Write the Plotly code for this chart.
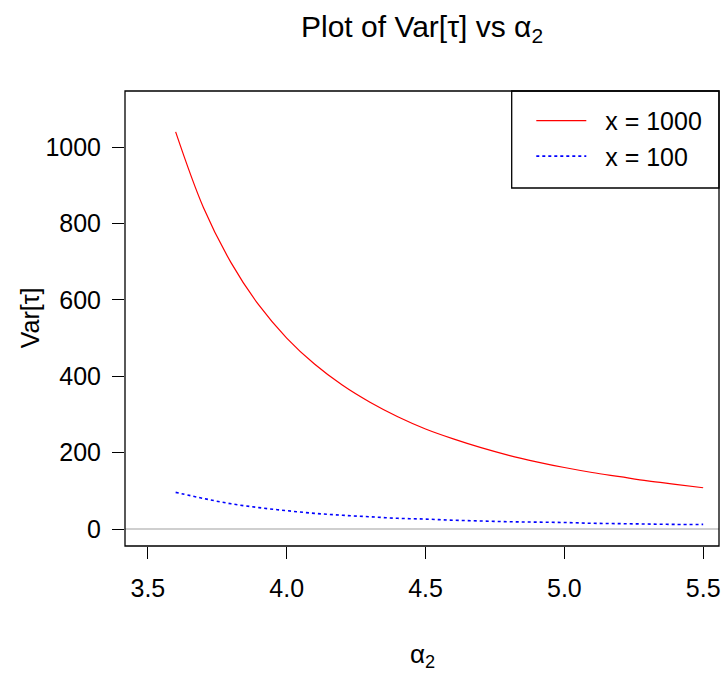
import plotly.graph_objects as go

alpha2 = [3.6, 3.7, 3.8, 3.9, 4.0, 4.1, 4.2, 4.3, 4.4, 4.5,
          4.6, 4.7, 4.8, 4.9, 5.0, 5.1, 5.2, 5.3, 5.4, 5.5]
var_x1000 = [1040, 842, 697, 586, 500, 432, 377, 332, 294, 262,
             236, 213, 193, 176, 161, 148, 137, 126, 117, 108]
var_x100 = [96, 80, 66, 56, 48, 41, 36, 32, 28, 26,
            23, 21, 19, 18, 17, 15, 14, 13, 12, 12]
x_ticks = [3.5, 4.0, 4.5, 5.0, 5.5]
x_tick_labels = ["3.5", "4.0", "4.5", "5.0", "5.5"]
y_ticks = [0, 200, 400, 600, 800, 1000]

FONT = "Liberation Sans, Arial, sans-serif"
W, H = 722, 675
L, R, T, B = 125, 1, 91, 129
plot_w = W - L - R
plot_h = H - T - B


def py(pix):
    return (H - B - pix) / plot_h


def px(pix):
    return (pix - L) / plot_w


NB = "\u00a0\u00a0"

fig = go.Figure()
fig.add_trace(go.Scatter(x=alpha2, y=var_x1000, mode="lines", name=NB + "x = 1000",
                         line=dict(color="#FF0000", width=1.2, shape="spline")))
fig.add_trace(go.Scatter(x=alpha2, y=var_x100, mode="lines", name=NB + "x = 100",
                         line=dict(color="#0000FF", width=1.6, dash="dot", shape="spline")))

fig.update_layout(
    width=W, height=H,
    margin=dict(l=L, r=R, t=T, b=B, pad=0),
    paper_bgcolor="white", plot_bgcolor="white",
    font=dict(family=FONT, size=25, color="black"),
    showlegend=True,
    legend=dict(x=0.684, y=0.985, xanchor="left", yanchor="top",
                bgcolor="rgba(0,0,0,0)", borderwidth=0,
                font=dict(size=25), itemwidth=50, tracegroupgap=0),
    xaxis=dict(range=[3.4176, 5.557], tickvals=x_ticks, ticktext=x_tick_labels,
               ticks="outside", ticklen=12, tickcolor="black", tickwidth=1,
               showgrid=False, zeroline=False, showline=False,
               ticklabelstandoff=8, ticklabeloverflow="allow"),
    yaxis=dict(range=[-44.5, 1147], tickvals=y_ticks,
               ticks="outside", ticklen=12, tickcolor="black", tickwidth=1,
               showgrid=False, zeroline=False, showline=False,
               ticklabelstandoff=6, ticklabeloverflow="allow"),
    shapes=[
        dict(type="line", xref="paper", yref="y", x0=0, x1=1, y0=0, y1=0,
             line=dict(color="#A0A0A0", width=1.2), layer="below"),
        dict(type="rect", xref="paper", yref="paper", x0=0, x1=1, y0=0, y1=1,
             line=dict(color="black", width=1.3)),
        dict(type="rect", xref="paper", yref="paper", x0=px(513), x1=1,
             y0=py(188), y1=1, line=dict(color="black", width=1.3)),
    ],
)

fig.add_annotation(text="Plot of Var[τ] vs α<sub>2</sub>", xref="paper", yref="paper",
                   x=0.5, y=py(28), showarrow=False, font=dict(size=30),
                   xanchor="center", yanchor="middle")
fig.add_annotation(text="α<sub>2</sub>", xref="paper", yref="paper",
                   x=0.5, y=py(655), showarrow=False, font=dict(size=26),
                   xanchor="center", yanchor="middle")
fig.add_annotation(text="Var[τ]", xref="paper", yref="paper",
                   x=px(30), y=py(318), showarrow=False,
                   font=dict(size=25), textangle=-90,
                   xanchor="center", yanchor="middle")

fig.write_html("out.html")
